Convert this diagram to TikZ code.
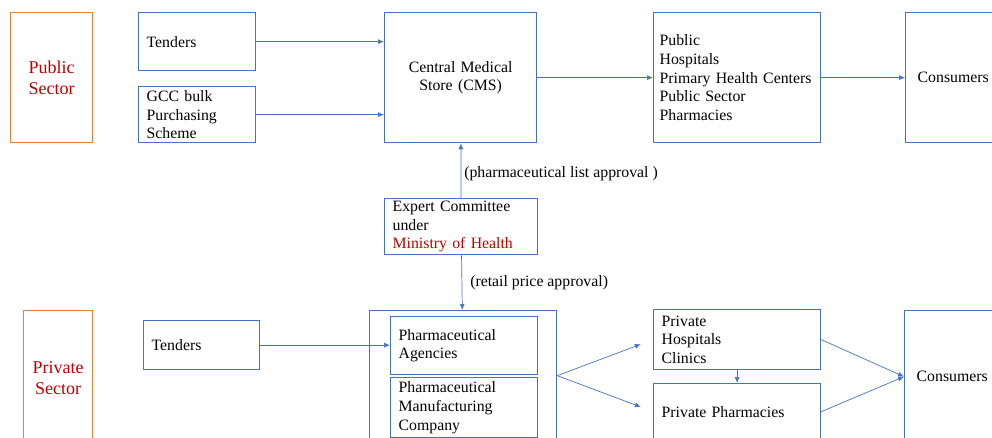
\documentclass[tikz,border=0pt]{standalone}
\usepackage{fontspec}
\setmainfont{Liberation Serif}
\usetikzlibrary{arrows.meta, positioning}
\definecolor{boxblue}{HTML}{4472C4}
\definecolor{secorange}{HTML}{ED7D31}
\definecolor{secred}{HTML}{C00000}

\begin{document}
\begin{tikzpicture}[x=1pt, y=-1pt, font=\fontsize{15.8}{18.7}\selectfont,
  box/.style={draw=boxblue, line width=1.3pt, align=left, inner xsep=8pt, inner ysep=0pt, anchor=north west},
  sect/.style={draw=secorange, line width=1.3pt, text=secred, align=center, inner sep=0pt, anchor=north west,
    font=\fontsize{18}{21}\selectfont},
  arr/.style={draw=boxblue, line width=0.7pt, -{Latex[length=6pt, width=5pt]}}]
\useasboundingbox (0,0) rectangle (992,438);
\clip (0,0) rectangle (992,438);

% public sector
\node[sect, minimum width=82pt, minimum height=130pt] (pubsec) at (10,12) {Public\\Sector};
\node[box, text width=101pt, minimum height=58pt] (tend1) at (138,12) {Tenders};
\node[box, text width=101pt, minimum height=56pt] (gcc) at (138,86) {GCC bulk\\Purchasing\\Scheme};
\node[box, align=center, text width=136pt, minimum height=130pt] (cms) at (384,12) {Central Medical\\Store (CMS)};
\node[box, inner xsep=6pt, text width=155pt, minimum height=130pt] (pubhos) at (653,12) {Public\\Hospitals\\Primary Health Centers\\Public Sector\\Pharmacies};
\node[box, inner xsep=12pt, text width=90pt, minimum height=130pt] (cons1) at (905,12) {Consumers};

\node[box, text width=137pt, minimum height=56pt] (expert) at (384,198) {Expert Committee\\under\\\textcolor{secred}{Ministry of Health}};

% private sector
\node[sect, minimum width=69pt, minimum height=134pt] (privsec) at (23,310) {Private\\Sector};
\node[box, text width=100pt, minimum height=49pt] (tend2) at (143,320) {Tenders};
\node[draw=boxblue, line width=1.3pt, minimum width=187pt, minimum height=130pt, anchor=north west] (firms) at (369,310) {};
\node[box, text width=131pt, minimum height=58pt] (agency) at (390,316) {Pharmaceutical\\Agencies};
\node[box, text width=131pt, minimum height=60pt] (manuf) at (390,377) {Pharmaceutical\\Manufacturing\\Company};
\node[box, text width=151pt, minimum height=60pt] (privhos) at (653,309) {Private\\Hospitals\\Clinics};
\node[box, text width=151pt, minimum height=56pt] (pharm) at (653,383) {Private Pharmacies};
\node[box, inner xsep=12pt, text width=90pt, minimum height=132pt] (cons2) at (904,310) {Consumers};

\draw[arr] (tend1) -- (tend1 -| cms.west);
\draw[arr] (gcc) -- (gcc -| cms.west);
\draw[arr] (cms) -- (pubhos);
\draw[arr] (pubhos) -- (cons1);
\draw[arr] (expert) -- node[pos=0.45, right, inner sep=3pt] {(pharmaceutical list approval )} (cms);
\draw[arr] (expert) -- node[right, inner xsep=8pt] {(retail price approval)} (firms);
\draw[arr] (tend2) -- (tend2 -| agency.west);
\draw[arr, shorten >=13pt] (firms.east) -- (privhos.west);
\draw[arr, shorten >=13pt] (firms.east) -- (pharm.west);
\draw[arr] (privhos) -- (pharm);
\draw[arr] (privhos.east) -- (cons2.west);
\draw[arr] (pharm.east) -- (cons2.west);
\end{tikzpicture}
\end{document}
